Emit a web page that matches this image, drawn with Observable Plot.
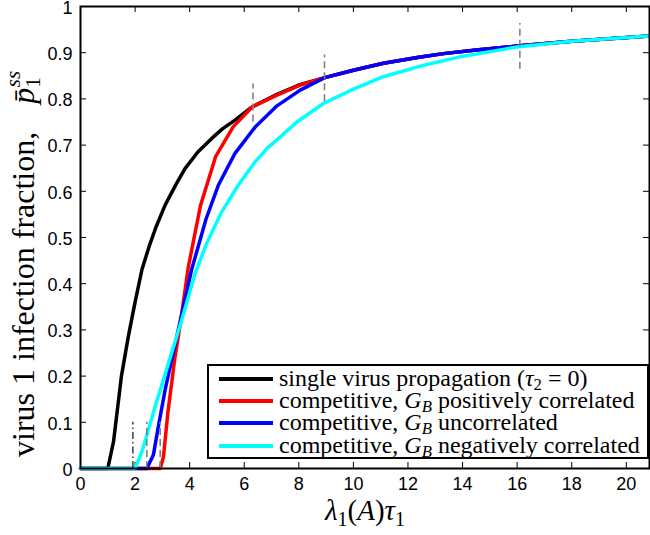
<!DOCTYPE html>
<html><head><meta charset="utf-8">
<script src="https://cdn.jsdelivr.net/npm/d3@7"></script>
<script src="https://cdn.jsdelivr.net/npm/@observablehq/plot@0.6"></script>
<style>
body{margin:0;background:#fff;}
#wrap{position:relative;width:650px;height:535px;overflow:hidden;}
#legend{position:absolute;left:207px;top:364px;width:442px;height:95px;border:2px solid #000;background:#fff;box-sizing:border-box;font-family:"Liberation Serif",serif;font-size:24px;color:#000;}
.row{position:absolute;left:0;height:0;white-space:nowrap;}
.swatch{position:absolute;left:10px;top:-2px;width:54px;height:4px;}
.lab{position:absolute;left:70px;top:-12px;line-height:22px;}
.lab sub{font-size:70%;vertical-align:-0.25em;line-height:0;}
</style></head>
<body><div id="wrap"></div>
<script>
// ---- data ----
const xTicks = [0, 2, 4, 6, 8, 10, 12, 14, 16, 18, 20];
const yTicks = [0, 0.1, 0.2, 0.3, 0.4, 0.5, 0.6, 0.7, 0.8, 0.9, 1];
const yTickLabels = ["0", "0.1", "0.2", "0.3", "0.4", "0.5", "0.6", "0.7", "0.8", "0.9", "1"];

const singleX = [0, 1.0, 1.21, 1.5, 1.75, 2.0, 2.25, 2.5, 2.75, 3.1, 3.5, 3.83, 4.3, 4.8, 5.2, 5.66, 6.3, 7.2, 8.0, 8.95, 10, 11.1, 12.4, 13.3, 14.5, 16.1, 18, 20.85];
const singleY = [0, 0, 0.058, 0.2, 0.285, 0.36, 0.43, 0.478, 0.52, 0.57, 0.615, 0.649, 0.685, 0.714, 0.735, 0.754, 0.783, 0.81, 0.83, 0.846, 0.862, 0.877, 0.89, 0.898, 0.906, 0.915, 0.925, 0.936];

const posX = [0, 2.92, 3.04, 3.2, 3.46, 3.65, 3.95, 4.4, 4.95, 5.6, 6.3, 7.2, 8.05, 8.95, 10, 11.1, 12.4, 13.3, 14.5, 16.1, 18, 20.85];
const posY = [0, 0, 0.025, 0.12, 0.24, 0.31, 0.436, 0.57, 0.675, 0.74, 0.783, 0.808, 0.83, 0.846, 0.862, 0.877, 0.89, 0.898, 0.906, 0.915, 0.925, 0.936];

const uncX = [0, 2.43, 2.67, 2.85, 3.1, 3.6, 4.07, 4.6, 5.05, 5.66, 6.4, 7.2, 8.05, 8.95, 10, 11.1, 12.4, 13.3, 14.5, 16.1, 18, 20.85];
const uncY = [0, 0, 0.029, 0.09, 0.17, 0.305, 0.43, 0.54, 0.613, 0.682, 0.739, 0.785, 0.819, 0.846, 0.862, 0.877, 0.89, 0.898, 0.906, 0.915, 0.925, 0.936];

const negX = [0, 2.0, 2.25, 2.73, 3.22, 3.7, 4.2, 4.62, 5.17, 5.78, 6.4, 6.84, 7.25, 7.93, 8.9, 10.0, 11.1, 12.45, 13.9, 16.05, 18, 20.85];
const negY = [0, 0, 0.036, 0.133, 0.227, 0.32, 0.422, 0.487, 0.555, 0.613, 0.664, 0.693, 0.714, 0.75, 0.79, 0.821, 0.848, 0.871, 0.891, 0.913, 0.925, 0.936];

// threshold / merge markers (dashed vertical segments)
const markX = [1.92, 2.43, 2.92, 6.32, 8.94, 16.1];
const markY1 = [0, 0, 0, 0.75, 0.794, 0.864];
const markY2 = [0.1, 0.1, 0.1, 0.832, 0.895, 0.963];

const seriesNames = ["single", "positive", "uncorrelated", "negative"];
const seriesColors = ["#000000", "#ff0000", "#0000ff", "#00ffff"];
const legendLabels = [
  'single virus propagation (<i>τ</i><sub>2</sub> = 0)',
  'competitive, <i>G<sub>B</sub></i> positively correlated',
  'competitive, <i>G<sub>B</sub></i> uncorrelated',
  'competitive, <i>G<sub>B</sub></i> negatively correlated'
];

// ---- build tables ----
const toRows = (xs, ys) => xs.map((x, i) => ({x, y: ys[i]}));
const curves = [toRows(singleX, singleY), toRows(posX, posY), toRows(uncX, uncY), toRows(negX, negY)];
const marks = markX.map((x, i) => ({x, y1: markY1[i], y2: markY2[i]}));

const xMax = 20.85;
const tx = 6 / 27.29, ty = 6 / 462;

const plot = Plot.plot({
  width: 650, height: 535,
  marginLeft: 80, marginRight: 1, marginTop: 6, marginBottom: 67,
  x: {domain: [0, xMax]},
  y: {domain: [0, 1]},
  style: {fontFamily: "'Liberation Sans', Arial, sans-serif", fontSize: "18px", color: "#000", background: "#fff"},
  marks: [
    Plot.axisX(xTicks, {tickSize: 0, tickPadding: 9, label: null, fontSize: 18}),
    Plot.axisY(yTicks, {tickSize: 0, tickPadding: 8, label: null, fontSize: 18, dy: 1.5, tickFormat: (d, i) => yTickLabels[i]}),
    Plot.ruleX(xTicks, {y1: 0, y2: ty, stroke: "#000", strokeWidth: 1}),
    Plot.ruleX(xTicks, {y1: 1 - ty, y2: 1, stroke: "#000", strokeWidth: 1}),
    Plot.ruleY(yTicks, {x1: 0, x2: tx, stroke: "#000", strokeWidth: 1}),
    Plot.ruleY(yTicks, {x1: xMax - tx, x2: xMax, stroke: "#000", strokeWidth: 1}),
    ...curves.map((c, i) => Plot.line(c, {x: "x", y: "y", stroke: seriesColors[i], strokeWidth: 3.5, strokeLinejoin: "round"})),
    Plot.ruleX(marks.slice(0, 1), {x: "x", y1: "y1", y2: "y2", stroke: "#222", strokeWidth: 1.3, strokeDasharray: "7,3,1.5,3"}),
    Plot.ruleX(marks.slice(1), {x: "x", y1: "y1", y2: "y2", stroke: "#808080", strokeWidth: 1.6, strokeDasharray: "7,4"}),
    Plot.frame({stroke: "#000", strokeWidth: 2})
  ]
});

const wrap = document.getElementById("wrap");
wrap.appendChild(plot);

// axis titles with math-like formatting
const svg = d3.select(plot);
const yl = svg.append("text")
  .attr("transform", "translate(34,457) rotate(-90)")
  .attr("text-anchor", "start")
  .attr("font-family", "'Liberation Serif', serif")
  .attr("font-size", 32)
  .attr("fill", "#000");
yl.append("tspan").text("virus 1 infection fraction,");
yl.append("tspan").attr("dx", 28).attr("font-style", "italic").text("p\u0304");
yl.append("tspan").attr("font-size", 21).attr("dy", 6).text("1");
yl.append("tspan").attr("font-size", 21).attr("font-style", "italic").attr("dx", -10).attr("dy", -20).text("ss");

const xl = svg.append("text")
  .attr("x", 365).attr("y", 520)
  .attr("text-anchor", "middle")
  .attr("font-family", "'Liberation Serif', serif")
  .attr("font-size", 29)
  .attr("fill", "#000");
xl.append("tspan").attr("font-style", "italic").text("λ");
xl.append("tspan").attr("font-size", 20).attr("dy", 6).text("1");
xl.append("tspan").attr("dy", -6).text("(");
xl.append("tspan").attr("font-style", "italic").text("A");
xl.append("tspan").text(")");
xl.append("tspan").attr("font-style", "italic").text("τ");
xl.append("tspan").attr("font-size", 20).attr("dy", 6).text("1");

// legend overlay
const legend = document.createElement("div");
legend.id = "legend";
seriesNames.forEach((name, i) => {
  const row = document.createElement("div");
  row.className = "row";
  row.style.top = (13 + 22.2 * i) + "px";
  row.innerHTML = `<div class="swatch" style="background:${seriesColors[i]}"></div><div class="lab">${legendLabels[i]}</div>`;
  legend.appendChild(row);
});
wrap.appendChild(legend);
</script>
</body></html>
